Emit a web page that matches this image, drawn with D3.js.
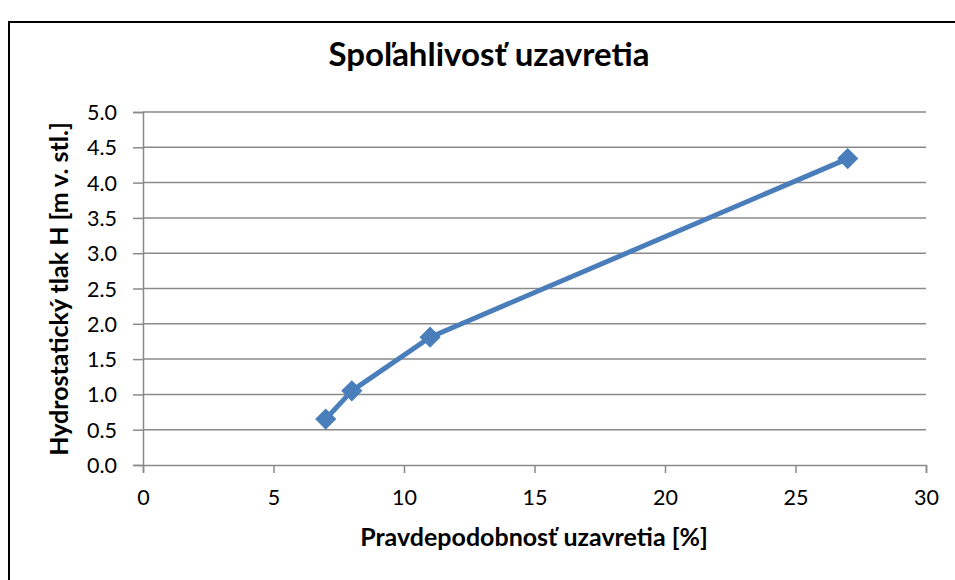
<!DOCTYPE html>
<html>
<head>
<meta charset="utf-8">
<script src="https://cdn.jsdelivr.net/npm/d3@7"></script>
<style>
  body { margin: 0; background: #fff; }
  svg { display: block; font-family: Lato, "Open Sans", sans-serif; }
</style>
</head>
<body>
<div id="chart"></div>
<script>
// data
const pravdepodobnost = [7, 8, 11, 27];
const tlak = [0.65, 1.05, 1.81, 4.34];
const xTicks = [0, 5, 10, 15, 20, 25, 30];
const yTicks = [0, 0.5, 1, 1.5, 2, 2.5, 3, 3.5, 4, 4.5, 5];

const W = 955, H = 580;
const svg = d3.select("#chart").append("svg")
    .attr("width", W)
    .attr("height", H);

// border
svg.append("rect")
    .attr("x", 9).attr("y", 22)
    .attr("width", 980).attr("height", 620)
    .attr("fill", "#fff")
    .attr("stroke", "#000")
    .attr("stroke-width", 2);

const x = d3.scaleLinear().domain([0, 30]).range([143, 926]);
const y = d3.scaleLinear().domain([0, 5]).range([465, 112]);

// grid
svg.append("g").selectAll("line")
    .data(yTicks.filter(d => d > 0)).enter()
    .append("line")
    .attr("x1", x(0)).attr("x2", x(30))
    .attr("y1", d => y(d)).attr("y2", d => y(d))
    .attr("stroke", "#8a8a8a")
    .attr("stroke-width", 1.5);

// axes
const xAxis = svg.append("g")
    .attr("transform", `translate(0,${y(0)})`)
    .call(d3.axisBottom(x).tickValues(xTicks).tickSize(8).tickPadding(17).tickFormat(d3.format("d")));
const yAxis = svg.append("g")
    .attr("transform", `translate(${x(0)},0)`)
    .call(d3.axisLeft(y).tickValues(yTicks).tickSize(10).tickPadding(16).tickFormat(d3.format(".1f")));

[xAxis, yAxis].forEach(g => {
  g.select(".domain").attr("stroke", "#8a8a8a").attr("stroke-width", 1.5);
  g.selectAll(".tick line").attr("stroke", "#8a8a8a").attr("stroke-width", 1.5);
  g.selectAll("text").attr("fill", "#000").style("font-size", "21.5px")
      .style("font-family", "Lato, 'Open Sans', sans-serif");
});
yAxis.selectAll("text").attr("dy", "0.35em");

// line
const pts = pravdepodobnost.map((d, i) => [d, tlak[i]]);
svg.append("path")
    .datum(pts)
    .attr("fill", "none")
    .attr("stroke", "#4a7ebb")
    .attr("stroke-width", 5)
    .attr("stroke-linejoin", "round")
    .attr("d", d3.line().x(d => x(d[0])).y(d => y(d[1])));

// markers
svg.append("g").selectAll("path")
    .data(pts).enter()
    .append("path")
    .attr("transform", d => `translate(${x(d[0])},${y(d[1])}) rotate(45)`)
    .attr("d", "M-7,-7H7V7H-7Z")
    .attr("fill", "#4a7ebb")
    .attr("stroke", "#4a7ebb")
    .attr("stroke-width", 1);

// titles
svg.append("text")
    .attr("x", 489).attr("y", 66)
    .attr("text-anchor", "middle")
    .style("font-size", "33px").style("font-weight", "bold")
    .text("Spoľahlivosť uzavretia");

svg.append("text")
    .attr("x", 534).attr("y", 546)
    .attr("text-anchor", "middle")
    .style("font-size", "25px").style("font-weight", "bold")
    .text("Pravdepodobnosť uzavretia [%]");

svg.append("text")
    .attr("transform", "translate(68,289) rotate(-90)")
    .attr("text-anchor", "middle")
    .style("font-size", "25px").style("font-weight", "bold")
    .text("Hydrostatický tlak  H [m v. stl.]");
</script>
</body>
</html>
